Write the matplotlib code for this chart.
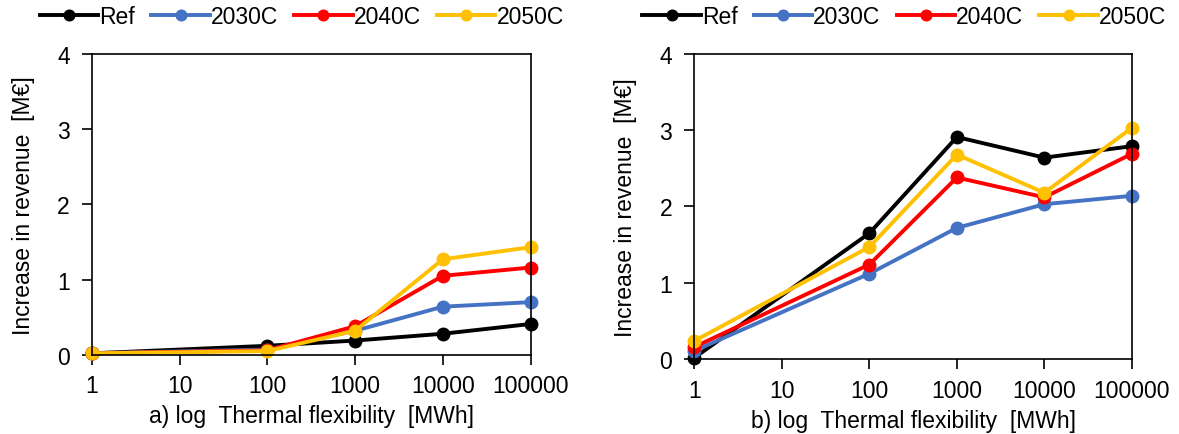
import matplotlib.pyplot as plt
import numpy as np

plt.rcParams['font.family'] = ['Liberation Sans', 'DejaVu Sans']

flex = [1, 100, 1000, 10000, 100000]
series = ['Ref', '2030C', '2040C', '2050C']
colors = ['#000000', '#4472C4', '#FF0000', '#FFC000']

# a) left panel
ref_a = [0.02, 0.12, 0.19, 0.28, 0.41]
c2030_a = [0.02, 0.07, 0.32, 0.64, 0.70]
c2040_a = [0.02, 0.06, 0.38, 1.05, 1.16]
c2050_a = [0.02, 0.05, 0.32, 1.27, 1.43]

# b) right panel
ref_b = [0.02, 1.65, 2.91, 2.64, 2.79]
c2030_b = [0.11, 1.12, 1.72, 2.03, 2.14]
c2040_b = [0.16, 1.24, 2.38, 2.12, 2.69]
c2050_b = [0.24, 1.47, 2.68, 2.18, 3.03]

tick_labels = ['1', '10', '100', '1000', '10000', '100000']
fs = 16.5


def draw(ax, data, xlabel):
    for vals, name, c in zip(data, series, colors):
        ax.plot(flex, vals, color=c, lw=2.8, marker='o', ms=9, label=name, clip_on=False)
    ax.set_xscale('log')
    ax.set_xlim(1, 100000)
    ax.set_ylim(0, 4)
    ax.set_xticks([10 ** i for i in range(6)])
    ax.set_xticklabels(tick_labels)
    ax.xaxis.set_minor_locator(plt.NullLocator())
    ax.set_yticks([0, 1, 2, 3, 4])
    ax.tick_params(labelsize=fs, direction='out', length=7, width=1.2, colors='black')
    ax.tick_params(axis='x', pad=7)
    ax.tick_params(axis='y', pad=9)
    for s in ax.spines.values():
        s.set_linewidth(1.2)
    ax.set_xlabel(xlabel, fontsize=fs, labelpad=5)
    ax.set_ylabel('Increase in revenue  [M€]', fontsize=fs, labelpad=16)


fig = plt.figure(figsize=(11.79, 4.35), dpi=100)
ax1 = fig.add_axes([0.078, 0.182, 0.372, 0.692])
ax2 = fig.add_axes([0.589, 0.172, 0.371, 0.702])

draw(ax1, [ref_a, c2030_a, c2040_a, c2050_a], 'a) log  Thermal flexibility  [MWh]')
draw(ax2, [ref_b, c2030_b, c2040_b, c2050_b], 'b) log  Thermal flexibility  [MWh]')

for ax, cx in [(ax1, 0.256), (ax2, 0.767)]:
    ax.legend(loc='center', bbox_to_anchor=(cx, 0.96), bbox_transform=fig.transFigure,
              ncol=4, frameon=False, fontsize=fs, handlelength=2.55, handletextpad=0.05,
              columnspacing=0.7, borderaxespad=0, markerscale=0.85)

fig.savefig('out.png', dpi=100)
